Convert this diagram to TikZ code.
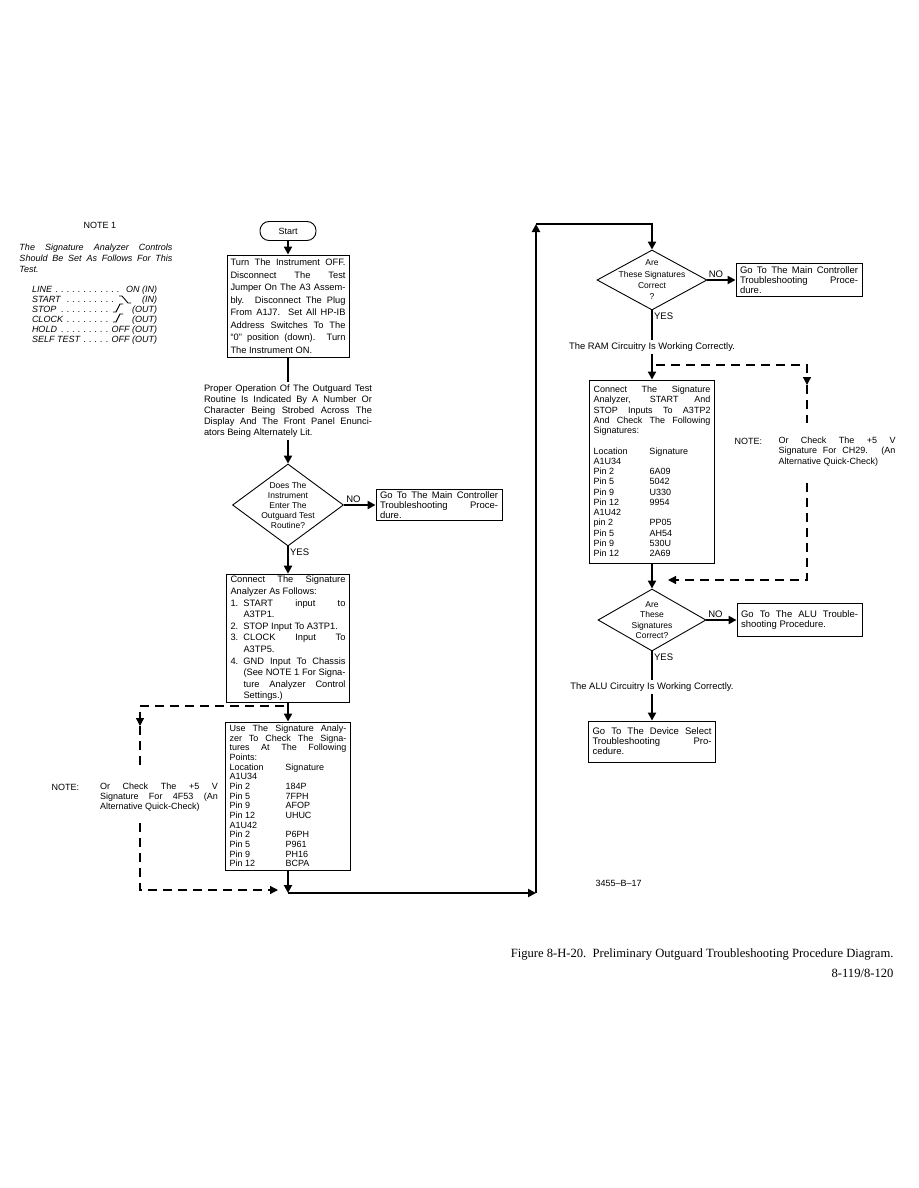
\documentclass[tikz,border=0pt]{standalone}
\usepackage{fontspec}
\setmainfont{Liberation Sans}
\newfontfamily\capfont{Liberation Serif}
\usetikzlibrary{arrows.meta,shapes.geometric,positioning}
\setlength{\parindent}{0pt}
\hbadness=10000
\newcommand{\jbr}{\linebreak}
\newcommand{\sdots}{\leaders\hbox to 0.62em{\hss.\hss}\hfill}
\newcommand{\sigrow}[2]{\par\makebox[56pt][l]{#1}#2}
\newcommand{\itm}[1]{\par\hangindent=13pt\hangafter=1\makebox[13pt][l]{#1}}

\begin{document}
\begin{tikzpicture}
[x=1pt,y=-1pt,
box/.style={draw,line width=0.9pt,align=justify,inner xsep=4pt,inner ysep=2pt},
txt/.style={align=justify,inner sep=1pt},
dia/.style={diamond,draw,line width=0.9pt,inner sep=0pt},
dtext/.style={align=center,inner sep=0pt},
flow/.style={line width=2.2pt,-{Triangle[width=8pt,length=8pt]}},
flowline/.style={line width=2.2pt},
dashline/.style={line width=1.3pt,dash pattern=on 9pt off 6pt},
dashflow/.style={dashline,-{Triangle[width=8pt,length=8pt]}},
lab/.style={font=\fontsize{9.5}{10}\selectfont,inner sep=1pt}]
\path[use as bounding box,fill=white] (0,0) rectangle (918,1188);
%% note 1
\node (notehead) [font=\fontsize{9}{10}\selectfont] at (100,225) {NOTE 1};
\node (notetext) [txt,text width=153pt,font=\itshape\fontsize{9}{11}\selectfont] at (96,258)
 {The Signature Analyzer Controls\jbr Should Be Set As Follows For This\jbr Test.};
\node (notelist) [txt,text width=125pt,inner sep=0pt,font=\itshape\fontsize{9}{9.9}\selectfont] at (94.5,315)
 {LINE\sdots ON (IN)\par START\sdots\hspace{26pt}(IN)\par STOP\sdots\hspace{21pt}(OUT)\par
  CLOCK\sdots\hspace{21pt}(OUT)\par HOLD\sdots OFF (OUT)\par SELF TEST\sdots OFF (OUT)};
\draw[line width=0.9pt] (119,296) -- (122,296) -- (128,303) -- (131,303);
\draw[line width=0.9pt] (113,312) -- (116,312) -- (120,304) -- (123,304);
\draw[line width=0.9pt] (113,322) -- (116,322) -- (120,314) -- (123,314);
%% left column
\node (start) [draw,line width=0.9pt,rounded corners=9pt,minimum width=56pt,minimum height=19pt,font=\fontsize{9}{10}\selectfont] at (288,231) {Start};
\node (b1) [box,text width=115pt,inner xsep=3.5pt,minimum height=102pt,font=\fontsize{9.3}{12.5}\selectfont] at (288,306)
 {Turn The Instrument OFF.\jbr Disconnect The Test\jbr Jumper On The A3 Assem-\jbr bly. Disconnect The Plug\jbr
  From A1J7. Set All HP-IB\jbr Address Switches To The\jbr “0” position (down). Turn\jbr The Instrument ON.};
\node (p1) [txt,text width=168pt,inner sep=2pt,font=\fontsize{9.3}{11}\selectfont] at (288,411)
 {Proper Operation Of The Outguard Test\jbr Routine Is Indicated By A Number Or\jbr Character Being Strobed Across The\jbr
  Display And The Front Panel Enunci-\jbr ators Being Alternately Lit.};
\node (d1) [dia,minimum width=111pt,minimum height=82pt] at (288,505) {};
\node (dq1) [dtext,font=\fontsize{8.5}{10}\selectfont] at (d1) {Does The\\Instrument\\Enter The\\Outguard Test\\Routine?};
\node (nob1) [box,text width=118pt,minimum height=31pt,inner ysep=1pt,font=\fontsize{9.5}{10}\selectfont] at (439,505)
 {Go To The Main Controller\jbr Troubleshooting Proce-\jbr dure.};
\node (b2) [box,text width=115pt,minimum height=117pt,font=\fontsize{9.3}{11.6}\selectfont] at (288,638.5)
 {Connect The Signature\jbr Analyzer As Follows:
  \itm{1.}START input to\jbr A3TP1.
  \itm{2.}STOP Input To A3TP1.
  \itm{3.}CLOCK Input To\jbr A3TP5.
  \itm{4.}GND Input To Chassis\jbr (See NOTE 1 For Signa-\jbr ture Analyzer Control\jbr Settings.)\par};
\node (b3) [box,text width=117pt,minimum height=148pt,font=\fontsize{9}{9.65}\selectfont] at (288,796)
 {Use The Signature Analy-\jbr zer To Check The Signa-\jbr tures At The Following\jbr Points:
  \sigrow{Location}{Signature}\sigrow{A1U34}{}\sigrow{Pin 2}{184P}\sigrow{Pin 5}{7FPH}\sigrow{Pin 9}{AFOP}
  \sigrow{Pin 12}{UHUC}\sigrow{A1U42}{}\sigrow{Pin 2}{P6PH}\sigrow{Pin 5}{P961}\sigrow{Pin 9}{PH16}\sigrow{Pin 12}{BCPA}};
\node (noteL) [anchor=west,font=\fontsize{9}{10}\selectfont] at (48,787) {NOTE:};
\node (noteLt) [txt,text width=118pt,font=\fontsize{9}{10.3}\selectfont] at (159,797)
 {Or Check The +5 V\jbr Signature For 4F53 (An\jbr Alternative Quick-Check)};
%% right column
\node (d2) [dia,minimum width=110pt,minimum height=60pt] at (652,280) {};
\node (dq2) [dtext,font=\fontsize{8.5}{11.3}\selectfont] at (d2) {Are\\These Signatures\\Correct\\?};
\node (nob2) [box,text width=118pt,minimum height=33pt,inner ysep=1pt,font=\fontsize{9.5}{10}\selectfont] at (799,280)
 {Go To The Main Controller\jbr Troubleshooting Proce-\jbr dure.};
\node (t1) [inner sep=2pt,font=\fontsize{9.4}{10}\selectfont] at (652,347) {The RAM Circuitry Is Working Correctly.};
\node (bR) [box,text width=117pt,minimum height=183pt,font=\fontsize{9}{10.25}\selectfont] at (652,471.5)
 {Connect The Signature\jbr Analyzer, START And\jbr STOP Inputs To A3TP2\jbr And Check The Following\jbr Signatures:\par\vspace{10.25pt}
  \sigrow{Location}{Signature}\sigrow{A1U34}{}\sigrow{Pin 2}{6A09}\sigrow{Pin 5}{5042}\sigrow{Pin 9}{U330}
  \sigrow{Pin 12}{9954}\sigrow{A1U42}{}\sigrow{pin 2}{PP05}\sigrow{Pin 5}{AH54}\sigrow{Pin 9}{530U}\sigrow{Pin 12}{2A69}};
\node (noteR) [anchor=west,font=\fontsize{9}{10}\selectfont] at (731,441) {NOTE:};
\node (noteRt) [txt,text width=117pt,font=\fontsize{9}{10.3}\selectfont] at (837,451.5)
 {Or Check The +5 V\jbr Signature For CH29. (An\jbr Alternative Quick-Check)};
\node (d3) [dia,minimum width=108pt,minimum height=62pt] at (652,620) {};
\node (dq3) [dtext,font=\fontsize{8.5}{10.5}\selectfont] at (d3) {Are\\These\\Signatures\\Correct?};
\node (alub) [box,text width=117pt,minimum height=33pt,inner ysep=1pt,font=\fontsize{9.5}{10}\selectfont] at (799.5,620)
 {Go To The ALU Trouble-\jbr shooting Procedure.};
\node (t2) [inner sep=2pt,font=\fontsize{9.4}{10}\selectfont] at (652,687) {The ALU Circuitry Is Working Correctly.};
\node (devb) [box,text width=119pt,minimum height=41pt,inner ysep=1pt,font=\fontsize{9.5}{10}\selectfont] at (652,741.5)
 {Go To The Device Select\jbr Troubleshooting Pro-\jbr cedure.};
\node (code) [anchor=west,font=\fontsize{9}{10}\selectfont] at (592,883) {3455–B–17};
\node (cap) [anchor=east,font=\capfont\fontsize{12.6}{14}\selectfont] at (897,954)
 {Figure 8-H-20.\ \ Preliminary Outguard Troubleshooting Procedure Diagram.};
\node (pg) [anchor=east,font=\capfont\fontsize{12.6}{14}\selectfont] at (897,973) {8-119/8-120};
%% connectors
\coordinate (j1) at (288,893);
\coordinate (c1) at (536,893);
\coordinate (c2) at (536,224);
\draw[flow] (start) -- (b1);
\draw[flowline] (b1) -- (p1);
\draw[flow] (p1) -- (d1);
\draw[flow] (d1) -- node[lab,above,pos=0.3] {NO} (nob1);
\draw[flow] (d1) -- node[lab,right,pos=0.2] {YES} (b2);
\draw[flow] (b2) -- (b3);
\draw[flow] (b3) -- (j1);
\draw[flow] (j1) -- (c1);
\draw[flow] (c1) -- (c2);
\draw[flow] (c2) -| (d2);
\draw[flow] (d2) -- node[lab,above,pos=0.3] {NO} (nob2);
\draw[flowline] (d2) -- node[lab,right,pos=0.2] {YES} (t1);
\draw[flow] (t1) -- (bR);
\draw[flow] (bR) -- (d3);
\draw[flow] (d3) -- node[lab,above,pos=0.3] {NO} (alub);
\draw[flowline] (d3) -- node[lab,right,pos=0.2] {YES} (t2);
\draw[flow] (t2) -- (devb);
%% dashed alternatives
\coordinate (qa) at (284,706);
\coordinate (qb) at (140,726);
\coordinate (qc) at (140,770);
\coordinate (qd) at (140,823);
\coordinate (qe) at (278,890);
\draw[dashflow] (qa) -| (qb);
\draw[dashline] (qb) -- (qc);
\draw[dashflow] (qd) |- (qe);
\coordinate (ra) at (656,365);
\coordinate (rb) at (807,385);
\coordinate (rc) at (807,423);
\coordinate (rd) at (807,483);
\coordinate (re) at (668,580);
\draw[dashflow] (ra) -| (rb);
\draw[dashline] (rb) -- (rc);
\draw[dashflow] (rd) |- (re);
\end{tikzpicture}
\end{document}
